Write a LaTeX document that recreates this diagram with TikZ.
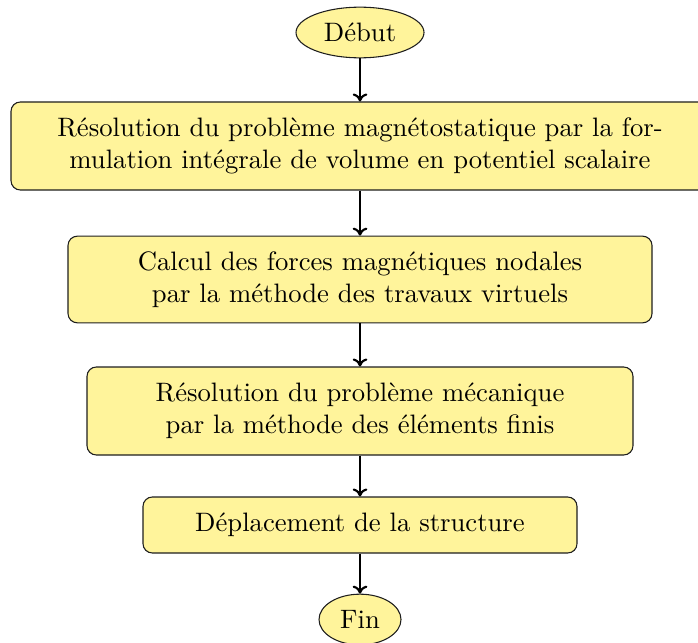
\documentclass[tikz,border=0pt]{standalone}
\usetikzlibrary{shapes.geometric,arrows.meta}
\definecolor{boxfill}{RGB}{255,244,155}
\definecolor{boxline}{RGB}{30,30,30}
\begin{document}
\begin{tikzpicture}[x=0.375pt,y=-0.375pt,
  stepbox/.style={draw=boxline,fill=boxfill,rounded corners=3.5pt,align=center,inner sep=0pt},
  termnode/.style={ellipse,draw=boxline,fill=boxfill,inner sep=0pt},
  flow/.style={thick,-{To[length=3pt,width=5.5pt]}}]
\useasboundingbox (0,0) rectangle (698,642);
\node[termnode,minimum width=48pt,minimum height=19pt] (debut) at (360,32.5) {Début};
\node[stepbox,minimum width=261.75pt,minimum height=33pt] (b1) at (360,146) {Résolution du problème magnétostatique par la for-\\mulation intégrale de volume en potentiel scalaire};
\node[stepbox,minimum width=219pt,minimum height=32.5pt] (b2) at (360,279.5) {Calcul des forces magnétiques nodales\\par la méthode des travaux virtuels};
\node[stepbox,minimum width=204.75pt,minimum height=33pt] (b3) at (360,411) {Résolution du problème mécanique\\par la méthode des éléments finis};
\node[stepbox,minimum width=162.75pt,minimum height=21pt] (b4) at (360,525) {Déplacement de la structure};
\node[termnode,minimum width=30.75pt,minimum height=19pt] (fin) at (360,619.5) {Fin};
\draw[flow] (debut) -- (b1);
\draw[flow] (b1) -- (b2);
\draw[flow] (b2) -- (b3);
\draw[flow] (b3) -- (b4);
\draw[flow] (b4) -- (fin);
\end{tikzpicture}
\end{document}
